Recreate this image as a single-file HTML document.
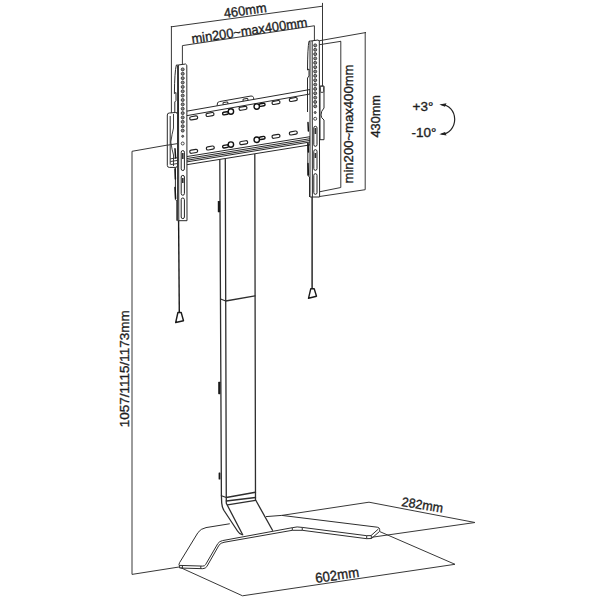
<!DOCTYPE html>
<html><head><meta charset="utf-8">
<style>
html,body{margin:0;padding:0;background:#fff;width:600px;height:600px;overflow:hidden}
svg{display:block}
text{font-family:"Liberation Sans",sans-serif;fill:#1e1e1e;stroke:#1e1e1e;stroke-width:0.35}
</style></head>
<body>
<svg width="600" height="600" viewBox="0 0 600 600">

<g fill="none" stroke="#383838" stroke-width="1" stroke-linejoin="round">
<polyline points="171.4,113 171.4,26 171.4,26.8 322.5,6.2"/>
<line x1="322.5" y1="2.9" x2="322.5" y2="86"/>
<polyline points="182.4,64.5 182.4,45.6 314.4,25.75 314.4,41"/>
<polyline points="319,40.8 366,32.5 365.2,32.5 365.2,189.7 318.3,196.7"/>
<polyline points="317.5,45 341,41.3 340.8,41.3 340.8,187.5 320,191.7"/>
<polyline points="182,142.5 132,151.3 132,574.4 179,567"/>
<polyline points="281.8,515.4 369,502.2 475,522.5 371.5,537.3"/>
<polyline points="380,531.7 455,564.3 242.5,595.8 180.5,567.6"/>
</g>
<g fill="none" stroke="#2e2e2e" stroke-width="1.3" stroke-linejoin="round" stroke-linecap="round">
<path d="M219.8,159.5 L221.4,495.75 L221.7,503 Q222,507 224,510.5 L237.5,531 Q239,533.5 241.8,534.5"/>
<path d="M225.3,159.2 L226.3,503.3 L242.7,534.8"/>
<path d="M254.8,154.3 L255.5,499.8 L272.5,530.2"/>
<polyline points="220.6,299 225.7,301 255,295.8"/>
<polyline points="221.4,495.75 226.3,497.5 255.5,492.25"/>
<line x1="226.3" y1="501" x2="255.5" y2="497.5"/>
<line x1="227.5" y1="504.8" x2="255.5" y2="500.4"/>
</g>
<g fill="#1a1a1a">
<rect x="217.8" y="201" width="2.4" height="11.3" rx="0.6"/>
<rect x="218.2" y="381.7" width="2.2" height="12.5" rx="0.6"/>
<rect x="218.6" y="472.5" width="1.8" height="7" rx="0.5"/>
</g>
<g fill="none" stroke="#2e2e2e" stroke-width="1" stroke-linejoin="round">
<path d="M229.8,523.75 L206,527.6 Q200.5,528.8 198,532.5 L179.6,562.6 Q178.4,564.8 179.5,566"/>
<path d="M179.6,565.4 L202.8,566.1 Q204.8,566 205.6,564.6 L217.8,543.6 Q219.5,541.2 222.5,540.6 L292.3,527.7 Q297,526.3 302.25,527.4 L366.7,535.7 L371,535.6 L378.4,529"/>
<path d="M179.6,565.4 L179.6,568 L202.8,568.7 Q205.6,568.5 206.8,566.6 L219,545.2 Q220.8,542.8 224,542.3 L292.3,530.3 L302.25,530.3 L366.7,538.7 L371.5,538.5 L379.7,531.3"/>
<line x1="182.4" y1="565.5" x2="182.4" y2="568.1"/><line x1="200.8" y1="566" x2="200.8" y2="568.6"/><line x1="292.3" y1="527.7" x2="292.3" y2="530.3"/><line x1="302.25" y1="527.4" x2="302.25" y2="530.3"/><line x1="366.7" y1="535.7" x2="366.7" y2="538.7"/><line x1="371.3" y1="535.6" x2="371.3" y2="538.5"/>
<path d="M266,516.6 L281.8,515.4 L377.3,527.2 Q379.7,527.6 379.7,529.6 L379.7,531.3"/>
</g>
<g fill="none" stroke="#1a1a1a" stroke-width="1.4" stroke-linejoin="round">
<line x1="178.6" y1="221" x2="179.3" y2="312.5"/>
<path d="M177.9,312.5 L181.2,312.5 L183.5,320.8 L175.7,322.5 Z"/>
<line x1="312.1" y1="197" x2="312.1" y2="288.7"/>
<path d="M310.8,288.7 L314.2,288.7 L316.5,296.2 L308.5,298.3 Z"/>
</g>
<g fill="#fff" stroke="#2a2a2a" stroke-width="1" stroke-linejoin="round">
<polygon points="187,111 310,89.5 310,144.9 187,164.6" stroke="none"/>
<path d="M217,106.8 L217.5,103 Q218,101.8 219.5,101.6 L251,96 Q253,95.8 253.5,97.5 L254,100.5"/>
<rect x="223" y="102.3" width="5" height="2.4" rx="1" transform="rotate(-9.5 225.5 103.5)"/>
<rect x="243" y="98.8" width="5" height="2.4" rx="1" transform="rotate(-9.5 245.5 100)"/>
<polygon points="170.6,114 310,89.5 310,94 170.6,118.5"/>
<polygon points="170.6,159.2 310,136.7 310,144.9 170.6,167.3"/>
<line x1="170.6" y1="161.2" x2="310" y2="138.7"/><line x1="170.6" y1="162.9" x2="310" y2="140.4"/><line x1="170.6" y1="164.5" x2="310" y2="142"/>
</g>
<g fill="#fff" stroke="#222" stroke-width="1.2">
<rect x="189.70" y="116.30" width="8" height="3.2" rx="1.60" transform="rotate(-9.5 193.70 117.90)"/>
<rect x="206.00" y="112.90" width="8" height="3.2" rx="1.60" transform="rotate(-9.5 210.00 114.50)"/>
<rect x="239.00" y="106.70" width="8" height="3.2" rx="1.60" transform="rotate(-9.5 243.00 108.30)"/>
<rect x="272.00" y="100.90" width="8" height="3.2" rx="1.60" transform="rotate(-9.5 276.00 102.50)"/>
<rect x="289.30" y="97.90" width="8" height="3.2" rx="1.60" transform="rotate(-9.5 293.30 99.50)"/>
<rect x="189.70" y="149.70" width="8" height="3.2" rx="1.60" transform="rotate(-9.5 193.70 151.30)"/>
<rect x="206.30" y="146.40" width="8" height="3.2" rx="1.60" transform="rotate(-9.5 210.30 148.00)"/>
<rect x="239.70" y="141.10" width="8" height="3.2" rx="1.60" transform="rotate(-9.5 243.70 142.70)"/>
<rect x="272.00" y="134.70" width="8" height="3.2" rx="1.60" transform="rotate(-9.5 276.00 136.30)"/>
<rect x="289.30" y="131.40" width="8" height="3.2" rx="1.60" transform="rotate(-9.5 293.30 133.00)"/>
</g>
<g fill="#fff" stroke="#111" stroke-width="1.4">
<rect x="222.40" y="111.10" width="5.8" height="2.6" rx="1.2" transform="rotate(-9.5 230.90 111.50)"/><circle cx="230.9" cy="111.5" r="2.7"/>
<rect x="259.45" y="104.40" width="5.8" height="2.6" rx="1.2" transform="rotate(-9.5 256.75 106.60)"/><circle cx="256.75" cy="106.6" r="2.7"/>
<rect x="222.40" y="144.20" width="5.8" height="2.6" rx="1.2" transform="rotate(-9.5 230.90 144.60)"/><circle cx="230.9" cy="144.6" r="2.7"/>
<rect x="259.45" y="137.55" width="5.8" height="2.6" rx="1.2" transform="rotate(-9.5 256.75 139.75)"/><circle cx="256.75" cy="139.75" r="2.7"/>
</g>
<g fill="#fff" stroke="#2a2a2a" stroke-width="1" stroke-linejoin="round">
<path d="M167.3,115 Q167.3,113 169.3,113 L175.5,112.5 Q177.6,112.5 177.6,114.5 L177.6,165.2 Q177.6,167.4 175.5,167.4 L169.3,167.4 Q167.3,167.4 167.3,165.4 Z"/>
<path d="M170.2,116 L170.2,164.5" fill="none"/>
<path d="M173.5,114 L173.5,128 Q172,134 170.8,142 Q172,150 173.5,155 L173.5,166" fill="none" stroke-width="0.9"/>
<path d="M170.6,158.8 L177.6,157.7 M170.6,161.5 L177.6,160.4 M170.6,164.6 L177.6,163.5" fill="none" stroke-width="0.9"/>
<path d="M167.3,145.2 L177.6,143.6" fill="none" stroke="#383838"/>
</g>
<g fill="none" stroke="#2a2a2a" stroke-width="1" stroke-linejoin="round">
<path d="M176.3,65.2 Q174.6,72 174.4,93.6 L176,92.5 L176,100.5 L174.8,102 L174.8,112.5"/>
<path d="M175.4,167.4 L175.4,199.5 L176.8,201 L176.8,220.7"/>
</g>
<g fill="none" stroke="#151515" stroke-width="1.5" stroke-linecap="round">
<path d="M175,148.8 L175.6,158"/><path d="M175,169 L175.4,179"/><path d="M175,187.5 L175.6,198.5"/>
</g>
<g fill="#fff" stroke="#2a2a2a" stroke-width="1" stroke-linejoin="round">
<polygon points="176.3,65.2 178.2,65 185.6,64 186.8,65.2 187,220.7 177.6,220.7 177.6,66"/>
<line x1="178.4" y1="65" x2="178.8" y2="220.7"/>
</g>
<g stroke="#333" stroke-width="0.9" fill="#8a8a8a">
<circle cx="182.7" cy="69.40" r="1.5"/>
<circle cx="182.7" cy="73.77" r="1.5"/>
<circle cx="182.7" cy="78.14" r="1.5"/>
<circle cx="182.7" cy="82.51" r="1.5"/>
<circle cx="182.7" cy="86.88" r="1.5"/>
<circle cx="182.7" cy="91.25" r="1.5"/>
<circle cx="182.7" cy="95.62" r="1.5"/>
<circle cx="182.7" cy="99.99" r="1.5"/>
<circle cx="182.7" cy="104.36" r="1.5"/>
<circle cx="182.7" cy="108.73" r="1.5"/>
<circle cx="182.7" cy="113.10" r="1.5"/>
<circle cx="182.7" cy="117.47" r="1.5"/>
<circle cx="182.7" cy="121.84" r="1.5"/>
<circle cx="182.7" cy="126.21" r="1.5"/>
<circle cx="182.7" cy="130.58" r="1.5"/>
<circle cx="182.7" cy="136.3" r="1"/><circle cx="182.7" cy="143.5" r="1.5" fill="#fff"/>
</g>
<g fill="#fff" stroke="#222" stroke-width="1">
<rect x="181.20" y="150.60" width="3.2" height="19.90" rx="1.60"/>
<rect x="181.20" y="175.40" width="3.2" height="19.80" rx="1.60"/>
<rect x="181.20" y="198.00" width="3.2" height="20.60" rx="1.60"/>
</g>
<g fill="#333"><rect x="182" y="153" width="1.6" height="6"/><rect x="182" y="178" width="1.6" height="5"/></g>
<g fill="#fff" stroke="#2a2a2a" stroke-width="1" stroke-linejoin="round">
<path d="M320,86 L324,86 L324,108 Q321,111 321,115 Q321,118 324,120 L324,139.7 L320,139.7 Z"/>
<rect x="320.3" y="86.3" width="3.4" height="6" rx="0.8"/>
</g>
<g fill="none" stroke="#2a2a2a" stroke-width="1" stroke-linejoin="round">
<path d="M309,41.2 Q307.6,48 307.5,70 L309,69 L309,76 L307.5,78 L307.5,112"/>
<path d="M307.8,143 L307.8,175.5 L309.5,177 L309.5,197"/>
</g>
<g fill="none" stroke="#151515" stroke-width="1.5" stroke-linecap="round">
<path d="M308,122.5 L308.4,131"/><path d="M308,143.5 L308.4,152"/><path d="M308,163.5 L308.4,175"/>
</g>
<g fill="#fff" stroke="#2a2a2a" stroke-width="1" stroke-linejoin="round">
<polygon points="309,41.2 311,41 318,40 319.3,41 319.6,197 310,197 310,42"/>
<line x1="312.2" y1="41" x2="312.4" y2="197"/>
</g>
<g stroke="#333" stroke-width="0.9" fill="#8a8a8a">
<circle cx="315.2" cy="45.40" r="1.5"/>
<circle cx="315.2" cy="49.75" r="1.5"/>
<circle cx="315.2" cy="54.10" r="1.5"/>
<circle cx="315.2" cy="58.45" r="1.5"/>
<circle cx="315.2" cy="62.80" r="1.5"/>
<circle cx="315.2" cy="67.15" r="1.5"/>
<circle cx="315.2" cy="71.50" r="1.5"/>
<circle cx="315.2" cy="75.85" r="1.5"/>
<circle cx="315.2" cy="80.20" r="1.5"/>
<circle cx="315.2" cy="84.55" r="1.5"/>
<circle cx="315.2" cy="88.90" r="1.5"/>
<circle cx="315.2" cy="93.25" r="1.5"/>
<circle cx="315.2" cy="97.60" r="1.5"/>
<circle cx="315.2" cy="101.95" r="1.5"/>
<circle cx="315.2" cy="106.30" r="1.5"/>
<circle cx="315.2" cy="112.5" r="1"/><circle cx="315.2" cy="118.75" r="1.5" fill="#fff"/>
</g>
<g fill="#fff" stroke="#222" stroke-width="1">
<rect x="313.80" y="126.30" width="3.2" height="20.00" rx="1.60"/>
<rect x="313.80" y="149.70" width="3.2" height="20.60" rx="1.60"/>
<rect x="313.80" y="173.70" width="3.2" height="20.60" rx="1.60"/>
</g>
<g fill="#333"><rect x="314.6" y="128" width="1.6" height="6"/><rect x="314.6" y="153" width="1.6" height="5"/></g>
<g fill="none" stroke="#222" stroke-width="1.2"><path d="M441.5,104.6 A13.2 14.75 0 0 1 441.5,134.1"/></g>
<g fill="#222"><polygon points="439.3,104.4 446.5,103.2 445,106.8"/><polygon points="439.3,134.3 446.5,135.5 445,131.9"/></g>
<text font-size="13.5" transform="translate(224.5,17.9) rotate(-8)" textLength="43" lengthAdjust="spacingAndGlyphs">460mm</text>
<text font-size="13.5" transform="translate(192.2,43.5) rotate(-8.3)" textLength="117" lengthAdjust="spacingAndGlyphs">min200~max400mm</text>
<text font-size="13.5" transform="translate(353.2,183.5) rotate(-90)" textLength="119" lengthAdjust="spacingAndGlyphs">min200~max400mm</text>
<text font-size="13" transform="translate(379.5,137.5) rotate(-90)" textLength="42.5" lengthAdjust="spacingAndGlyphs">430mm</text>
<text font-size="13.5" transform="translate(129,427.2) rotate(-90)" textLength="117" lengthAdjust="spacingAndGlyphs">1057/1115/1173mm</text>
<text x="412.5" y="111.1" font-size="13.5">+3°</text>
<text x="411.5" y="137.1" font-size="13.5">-10°</text>
<text font-size="13" transform="translate(401,506) rotate(9.2)" textLength="42" lengthAdjust="spacingAndGlyphs">282mm</text>
<text font-size="14" transform="translate(316,583) rotate(-8.2)" textLength="44" lengthAdjust="spacingAndGlyphs">602mm</text>
</svg>
</body></html>
